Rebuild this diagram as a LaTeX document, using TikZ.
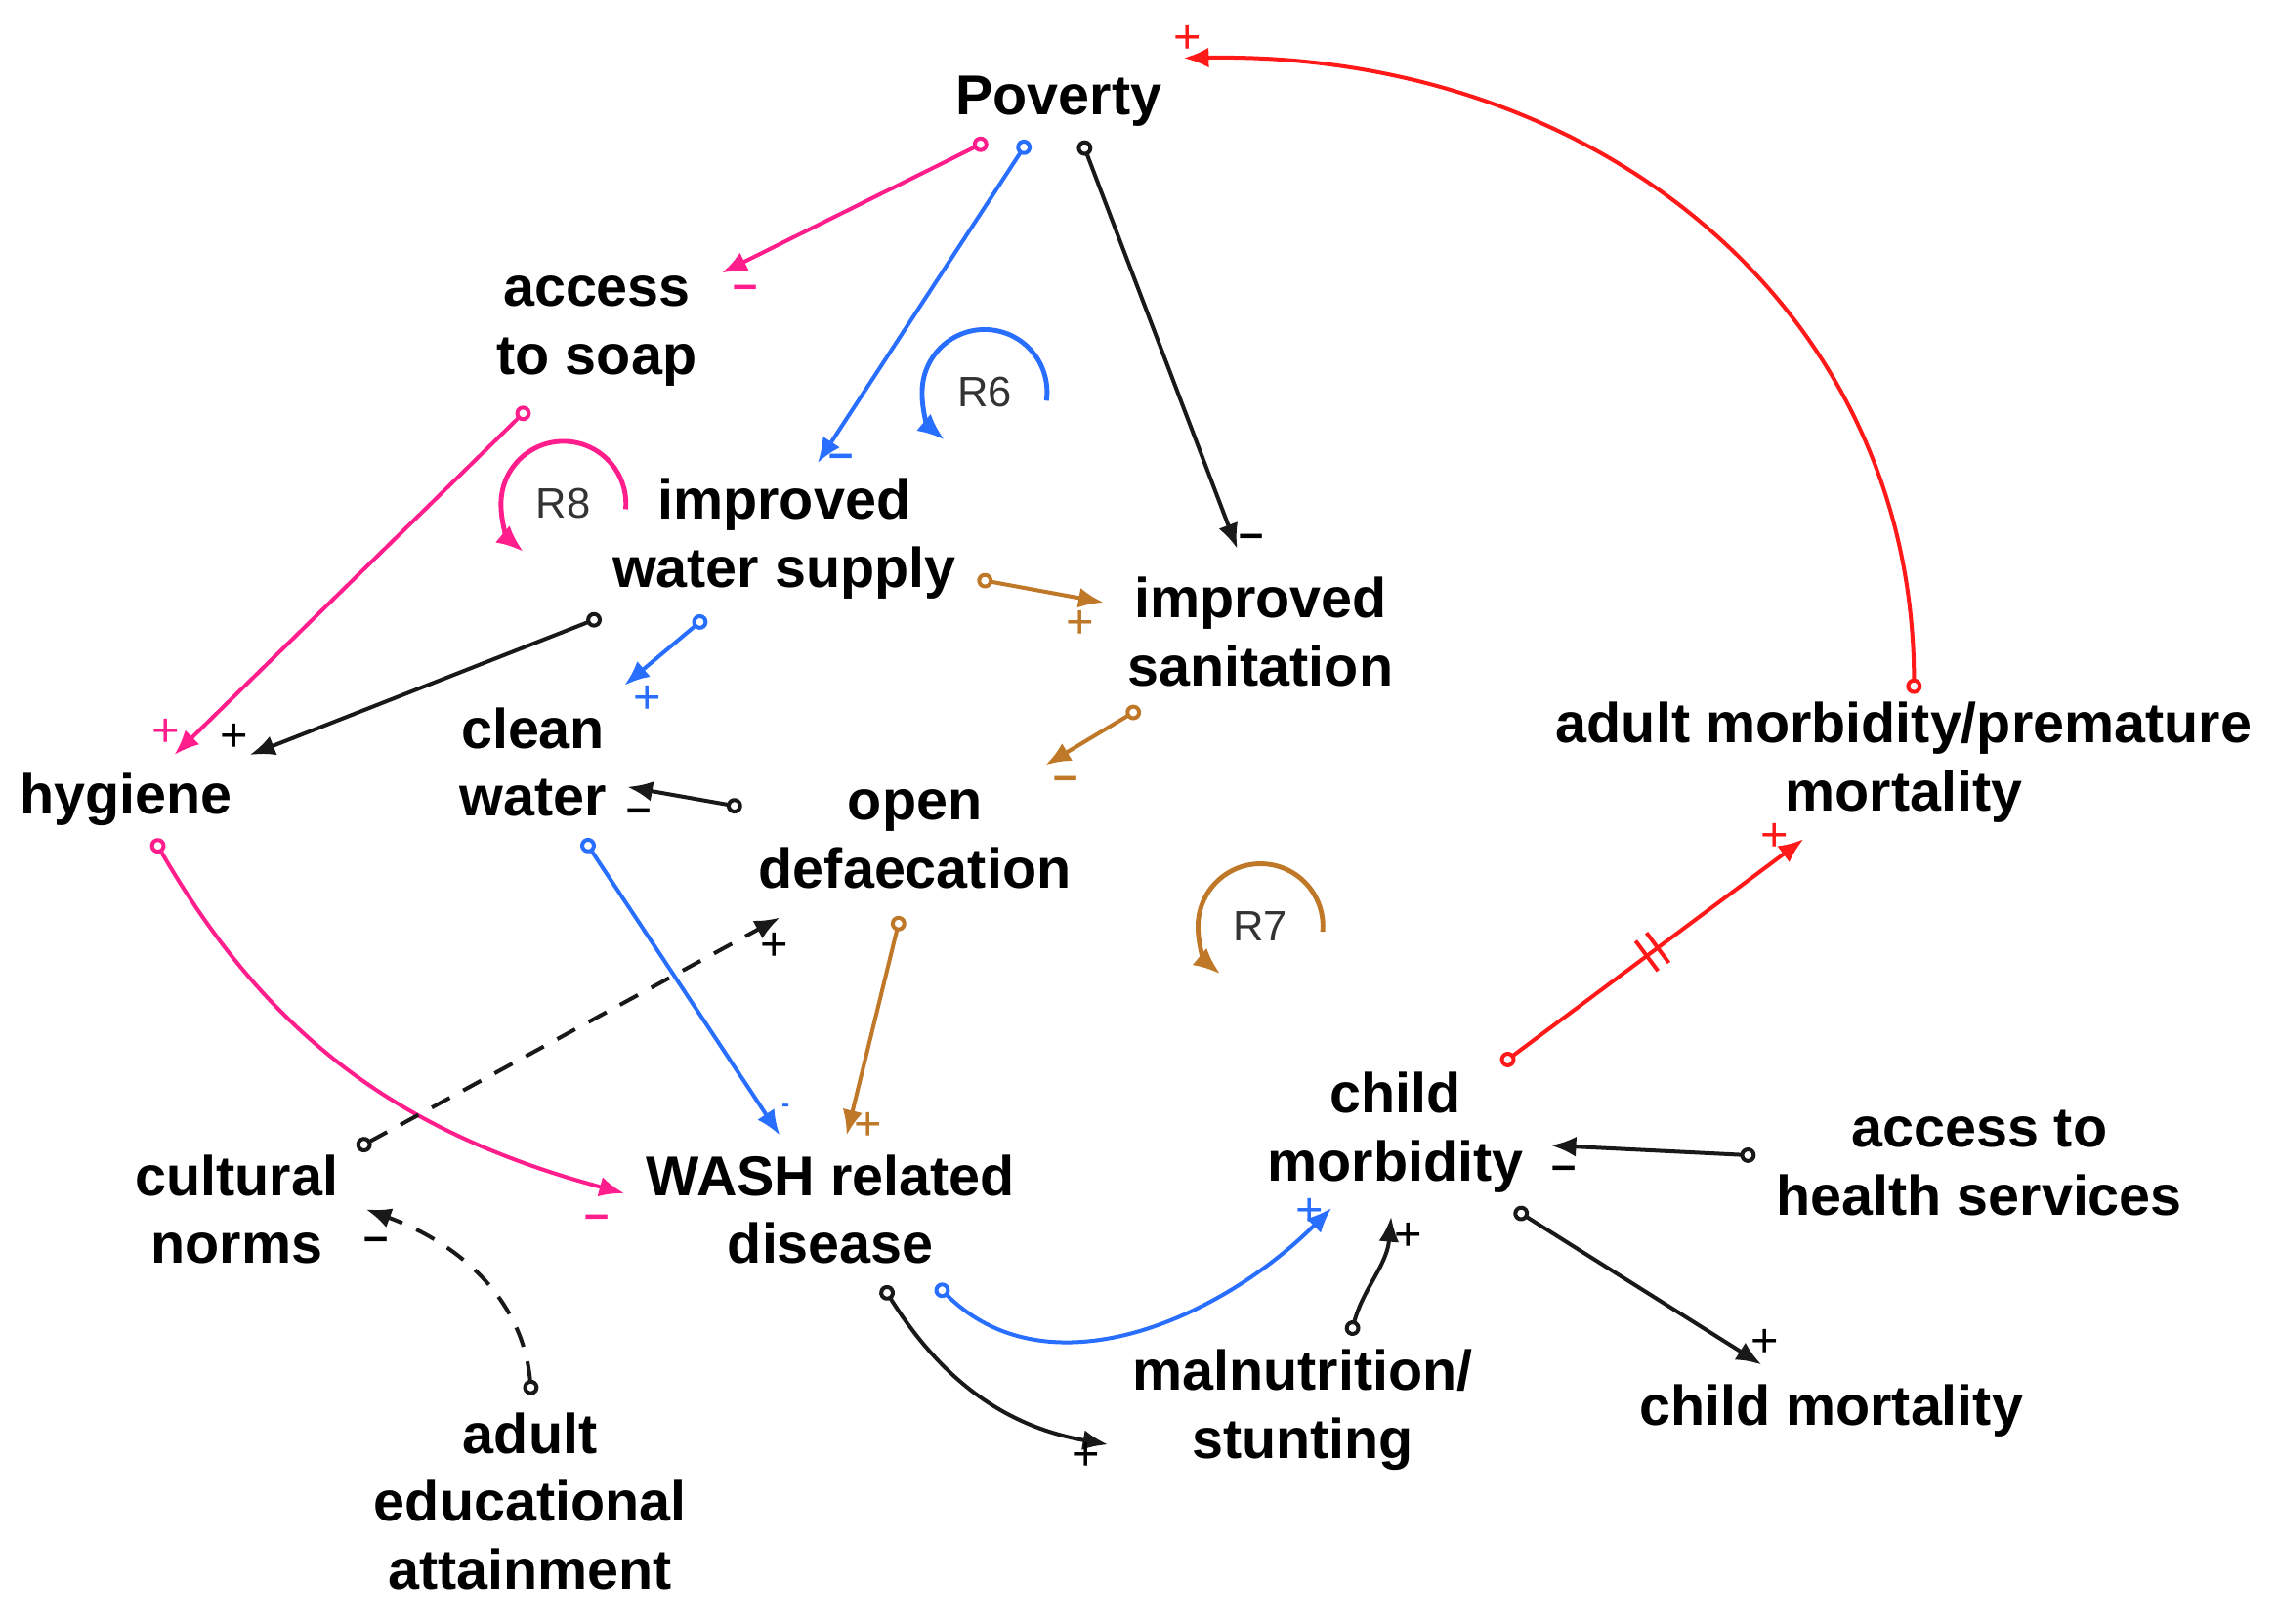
\documentclass[tikz,border=0pt]{standalone}
\usepackage{fontspec}
\setmainfont{Liberation Sans}
\usetikzlibrary{arrows.meta,decorations.markings}
\definecolor{washpink}{RGB}{255,30,140}
\definecolor{washblue}{RGB}{40,110,255}
\definecolor{washbrown}{RGB}{190,120,40}
\definecolor{washred}{RGB}{255,25,25}
\tikzset{
  link/.style={line width=1.15pt, {Circle[open,length=1.6mm]}-{Latex[length=2.6mm,width=2.1mm]}},
  blacklink/.style={link, draw=black!90},
  pinklink/.style={link, draw=washpink},
  bluelink/.style={link, draw=washblue},
  brownlink/.style={link, draw=washbrown},
  redlink/.style={link, draw=washred},
  dashlink/.style={blacklink, dash pattern=on 6pt off 4.5pt},
  delaylink/.style={redlink, postaction={decorate, decoration={markings,
      mark=at position 0.5 with {\draw[-, washred, line width=1.15pt] (-2pt,-5.5pt) -- (-2pt,5.5pt) (2pt,-5.5pt) -- (2pt,5.5pt);}}}},
  var/.style={align=center, inner sep=1pt, font=\fontsize{16.5}{20}\selectfont\bfseries},
  sign/.style={inner sep=0pt, font=\fontsize{14}{14}\selectfont},
  minus/.style={inner sep=0pt, font=\fontsize{13}{13}\selectfont\bfseries},
  looparc/.style={line width=1.4pt, -{Latex[length=2.8mm,width=2.3mm]}},
  looplabel/.style={font=\fontsize{12.5}{13}\selectfont, text=black!80}
}
\begin{document}
\begin{tikzpicture}[x=0.015cm, y=0.015cm]
  \fill[white] (0,0) rectangle (1568,-1118);
  \useasboundingbox (0,0) rectangle (1568,-1118);

  \node[var] (pov) at (729,-70) {Poverty};
  \node[var] (soap) at (411,-228) {access\\to soap};
  \node[var] (iws) at (540,-371) {improved\\water supply};
  \node[var] (isan) at (868,-435) {improved\\sanitation};
  \node[var] (hyg) at (87,-551) {hygiene};
  \node[var] (cwat) at (367,-525) {clean\\water};
  \node[var] (opdef) at (630,-578) {open\\defaecation};
  \node[var] (admort) at (1311,-525) {adult morbidity/premature\\mortality};
  \node[var] (cult) at (163,-833) {cultural\\norms};
  \node[var] (wash) at (572,-833) {WASH related\\disease};
  \node[var] (chmorb) at (961,-780) {child\\morbidity};
  \node[var] (health) at (1363,-801) {access to\\health services};
  \node[var] (maln) at (897,-971) {malnutrition/\\stunting};
  \node[var] (chmort) at (1261,-972) {child mortality};
  \node[var] (educ) at (365,-1034) {adult\\educational\\attainment};

  \node[looplabel] (r6) at (678,-270) {R6};
  \node[looplabel] (r8) at (388,-347) {R8};
  \node[looplabel] (r7) at (868,-638) {R7};
  \draw[looparc, washblue] ([shift={(-8:43)}]r6.center) arc[start angle=-8, end angle=230, radius=43];
  \draw[looparc, washpink] ([shift={(-5:43)}]r8.center) arc[start angle=-5, end angle=230, radius=43];
  \draw[looparc, washbrown] ([shift={(-5:43)}]r7.center) arc[start angle=-5, end angle=230, radius=43];

  \draw[pinklink] ([shift={(-49,-27)}]pov.center) -- ([shift={(86,40)}]soap.center) node[minus, text=washpink, shift={(16,-13)}] {--};
  \draw[bluelink] ([shift={(-21,-27)}]pov.center) -- ([shift={(23,52)}]iws.center) node[minus, text=washblue, shift={(16,1)}] {--};
  \draw[blacklink] ([shift={(16,-27)}]pov.center) -- ([shift={(-16,57)}]isan.center) node[minus, shift={(10,5)}] {--};
  \draw[redlink] ([shift={(7,47)}]admort.center) .. controls +(0,265) and +(285,5) .. ([shift={(86,30)}]pov.center) node[sign, text=washred, shift={(3,13)}] {+};

  \draw[brownlink] ([shift={(133,-28)}]iws.center) -- ([shift={(-108,20)}]isan.center) node[sign, text=washbrown, shift={(-16,-15)}] {+};
  \draw[blacklink] ([shift={(-126,-54)}]iws.center) -- ([shift={(85,31)}]hyg.center) node[sign, shift={(-11,12)}] {+};
  \draw[bluelink] ([shift={(-54,-54)}]iws.center) -- ([shift={(63,53)}]cwat.center) node[sign, text=washblue, shift={(16,-10)}] {+};
  \draw[pinklink] ([shift={(-47,-53)}]soap.center) -- ([shift={(33,31)}]hyg.center) node[sign, text=washpink, shift={(-6,15)}] {+};
  \draw[brownlink] ([shift={(-83,-53)}]isan.center) -- ([shift={(90,51)}]opdef.center) node[minus, text=washbrown, shift={(14,-13)}] {--};
  \draw[blacklink] ([shift={(-119,22)}]opdef.center) -- ([shift={(65,-17)}]cwat.center) node[minus, shift={(8,-20)}] {--};

  \draw[pinklink] ([shift={(19,-27)}]hyg.center) to[out=-60, in=165] ([shift={(-142,11)}]wash.center) node[minus, text=washpink, shift={(-19,-20)}] {--};
  \draw[bluelink] ([shift={(35,-53)}]cwat.center) -- ([shift={(-35,51)}]wash.center) node[inner sep=0pt, text=washblue, font=\fontsize{7}{7}\selectfont\bfseries, shift={(4,19)}] {-};
  \draw[brownlink] ([shift={(-10,-53)}]opdef.center) -- ([shift={(11,51)}]wash.center) node[sign, text=washbrown, shift={(15,6)}] {+};
  \draw[dashlink] ([shift={(83,42)}]cult.center) -- ([shift={(-93,-54)}]opdef.center) node[sign, shift={(-4,-20)}] {+};
  \draw[dashlink] ([shift={(1,73)}]educ.center) to[out=95, in=-20] ([shift={(89,0)}]cult.center) node[minus, shift={(7,-24)}] {--};

  \draw[bluelink] ([shift={(73,-52)}]wash.center) to[out=-45, in=-135] ([shift={(-44,-52)}]chmorb.center) node[sign, text=washblue, shift={(-15,-3)}] {+};
  \draw[blacklink] ([shift={(36,-53)}]wash.center) to[out=-58, in=170] ([shift={(-134,-24)}]maln.center) node[sign, shift={(-15,-8)}] {+};
  \draw[blacklink] ([shift={(33,51)}]maln.center) to[out=75, in=-95] ([shift={(-3,-58)}]chmorb.center) node[sign, shift={(12,-14)}] {+};
  \draw[blacklink] ([shift={(-154,5)}]health.center) -- ([shift={(107,-9)}]chmorb.center) node[minus, shift={(9,-19)}] {--};
  \draw[blacklink] ([shift={(82,-53)}]chmorb.center) -- ([shift={(-48,32)}]chmort.center) node[sign, shift={(2,15)}] {+};
  \draw[delaylink] ([shift={(73,47)}]chmorb.center) -- ([shift={(-69,-53)}]admort.center) node[sign, text=washred, shift={(-20,1)}] {+};
\end{tikzpicture}
\end{document}
